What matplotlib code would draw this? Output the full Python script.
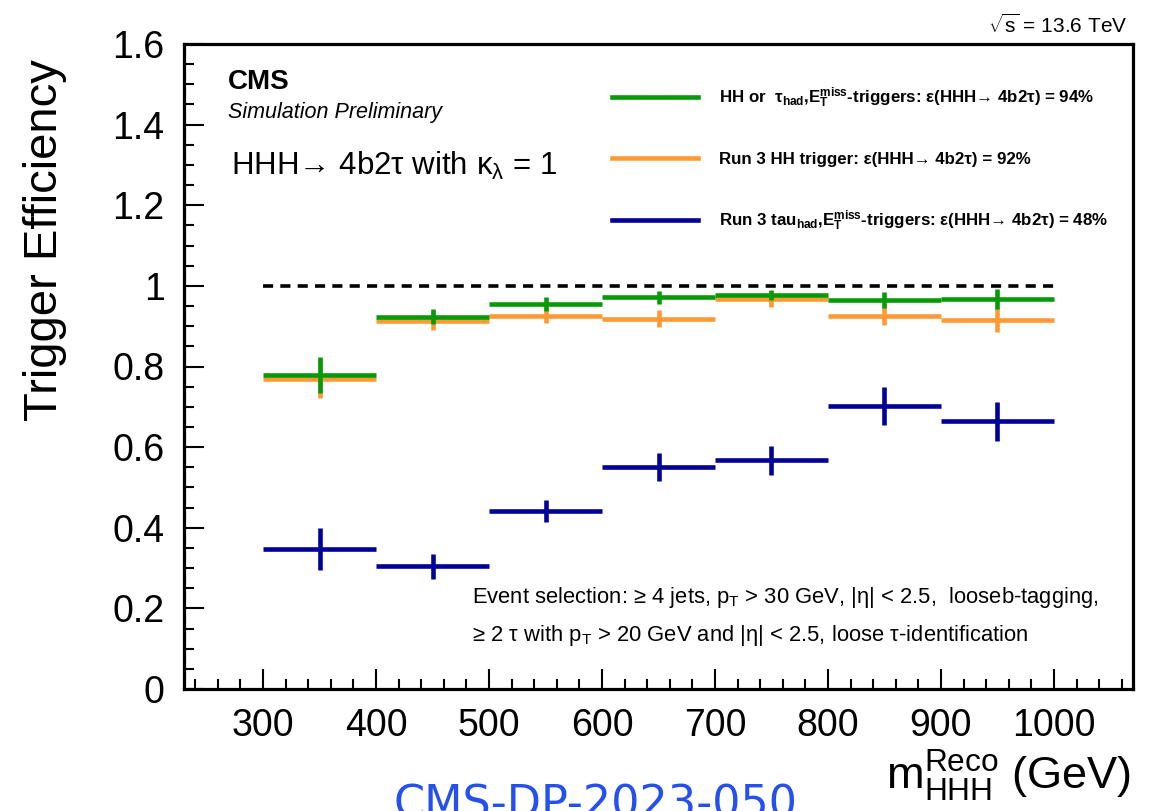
import matplotlib
matplotlib.use("Agg")
import matplotlib.pyplot as plt
import numpy as np
from matplotlib.ticker import MultipleLocator, FormatStrFormatter
from matplotlib.lines import Line2D

plt.rcParams['font.family'] = ['Liberation Sans', 'DejaVu Sans']
plt.rcParams['mathtext.fontset'] = 'custom'
plt.rcParams['mathtext.rm'] = 'Liberation Sans'
plt.rcParams['mathtext.it'] = 'Liberation Sans:italic'
plt.rcParams['mathtext.bf'] = 'Liberation Sans:bold'

# ---- data ----
bin_edges = [300, 400, 500, 600, 700, 800, 900, 1000]
eff_combined = [0.779, 0.924, 0.955, 0.972, 0.978, 0.965, 0.967]
err_combined = [0.045, 0.019, 0.017, 0.016, 0.013, 0.021, 0.025]
eff_hh = [0.769, 0.913, 0.926, 0.919, 0.968, 0.926, 0.915]
err_hh = [0.048, 0.022, 0.018, 0.022, 0.020, 0.023, 0.030]
eff_tau = [0.347, 0.305, 0.442, 0.551, 0.568, 0.702, 0.664]
err_tau = [0.053, 0.031, 0.027, 0.035, 0.036, 0.046, 0.048]

labels = [
    r'HH or  τ$\mathregular{_{had}}$,E$\mathregular{_{T}^{miss}}$-triggers: ε(HHH→ 4b2τ) = 94%',
    r'Run 3 HH trigger: ε(HHH→ 4b2τ) = 92%',
    r'Run 3 tau$\mathregular{_{had}}$,E$\mathregular{_{T}^{miss}}$-triggers: ε(HHH→ 4b2τ) = 48%',
]
colors = ['#079a07', '#ff9933', '#000099']

edges = np.array(bin_edges, dtype=float)
centers = 0.5 * (edges[:-1] + edges[1:])
halfw = 0.5 * np.diff(edges)

fig = plt.figure(figsize=(11.53, 8.11), dpi=100)
ax = fig.add_axes([184/1153, 1-689/811, (1133-184)/1153, (689-44)/811])

lw = 3.3
ax.errorbar(centers, eff_tau, xerr=halfw, yerr=err_tau, fmt='none',
            ecolor=colors[2], elinewidth=lw, capsize=0, zorder=3)
ax.errorbar(centers, eff_hh, xerr=halfw, yerr=err_hh, fmt='none',
            ecolor=colors[1], elinewidth=lw, capsize=0, zorder=4)
ax.errorbar(centers, eff_combined, xerr=halfw, yerr=err_combined, fmt='none',
            ecolor=colors[0], elinewidth=lw, capsize=0, zorder=5)

ax.hlines(1.0, edges[0], edges[-1], colors='black', linestyles=(0, (2.8, 2.0)),
          linewidth=2.6, zorder=2)

ax.set_xlim(230, 1070)
ax.set_ylim(0, 1.6)
ax.xaxis.set_major_locator(MultipleLocator(100))
ax.xaxis.set_minor_locator(MultipleLocator(20))
ax.yaxis.set_major_locator(MultipleLocator(0.2))
ax.yaxis.set_minor_locator(MultipleLocator(0.05))
ax.yaxis.set_major_formatter(FormatStrFormatter('%g'))
ax.tick_params(which='both', direction='in', top=False, right=False,
               width=1.5, labelsize=27)
ax.tick_params(which='major', length=14.5)
ax.tick_params(which='minor', length=7.2)
ax.tick_params(axis='y', pad=14)
ax.tick_params(axis='x', pad=14)
for s in ax.spines.values():
    s.set_linewidth(2.3)

# legend
handles = [Line2D([], [], color=c, lw=lw) for c in colors]
leg = ax.legend(handles, labels, loc='upper left', bbox_to_anchor=(0.451, 0.935),
                frameon=False, borderpad=0, borderaxespad=0, handlelength=5.1,
                handletextpad=1.2, labelspacing=2.45,
                prop={'size': 12.2, 'weight': 'bold'})

# texts
ax.text(0.0464, 0.962, 'CMS', transform=ax.transAxes, fontsize=20,
        fontweight='bold', va='top', ha='left')
ax.text(0.0464, 0.910, 'Simulation Preliminary', transform=ax.transAxes,
        fontsize=15.5, style='italic', va='top', ha='left')
ax.text(0.049, 0.836, r'HHH→ 4b2τ with κ$\mathregular{_{λ}}$ = 1',
        transform=ax.transAxes, fontsize=22.5, va='top', ha='left')
ax.text(0.304, 0.133,
        r'Event selection: ≥ 4 jets, p$\mathregular{_{T}}$ > 30 GeV, |η| < 2.5,  looseb-tagging,',
        transform=ax.transAxes, fontsize=15.8, va='baseline', ha='left')
ax.text(0.304, 0.074,
        r'≥ 2 τ with p$\mathregular{_{T}}$ > 20 GeV and |η| < 2.5, loose τ-identification',
        transform=ax.transAxes, fontsize=15.8, va='baseline', ha='left')

fig.text(1128/1153, 1-33/811, r'$\sqrt{\mathregular{s}}$ = 13.6 TeV', fontsize=15,
         ha='right', va='baseline')
fig.text(45/1153, 1-240/811, 'Trigger Efficiency', rotation=90, fontsize=34,
         ha='center', va='center')
fig.text(1131/1153, 1-790/811, r'$\mathregular{m_{HHH}^{Reco}}$ (GeV)', fontsize=32.5,
         ha='right', va='baseline')
fig.text(393/1153, 1-817/811, 'CMS-DP-2023-050', fontsize=32, color='#2450f0',
         family='DejaVu Sans', ha='left', va='baseline')

fig.savefig('out.png', dpi=100)
